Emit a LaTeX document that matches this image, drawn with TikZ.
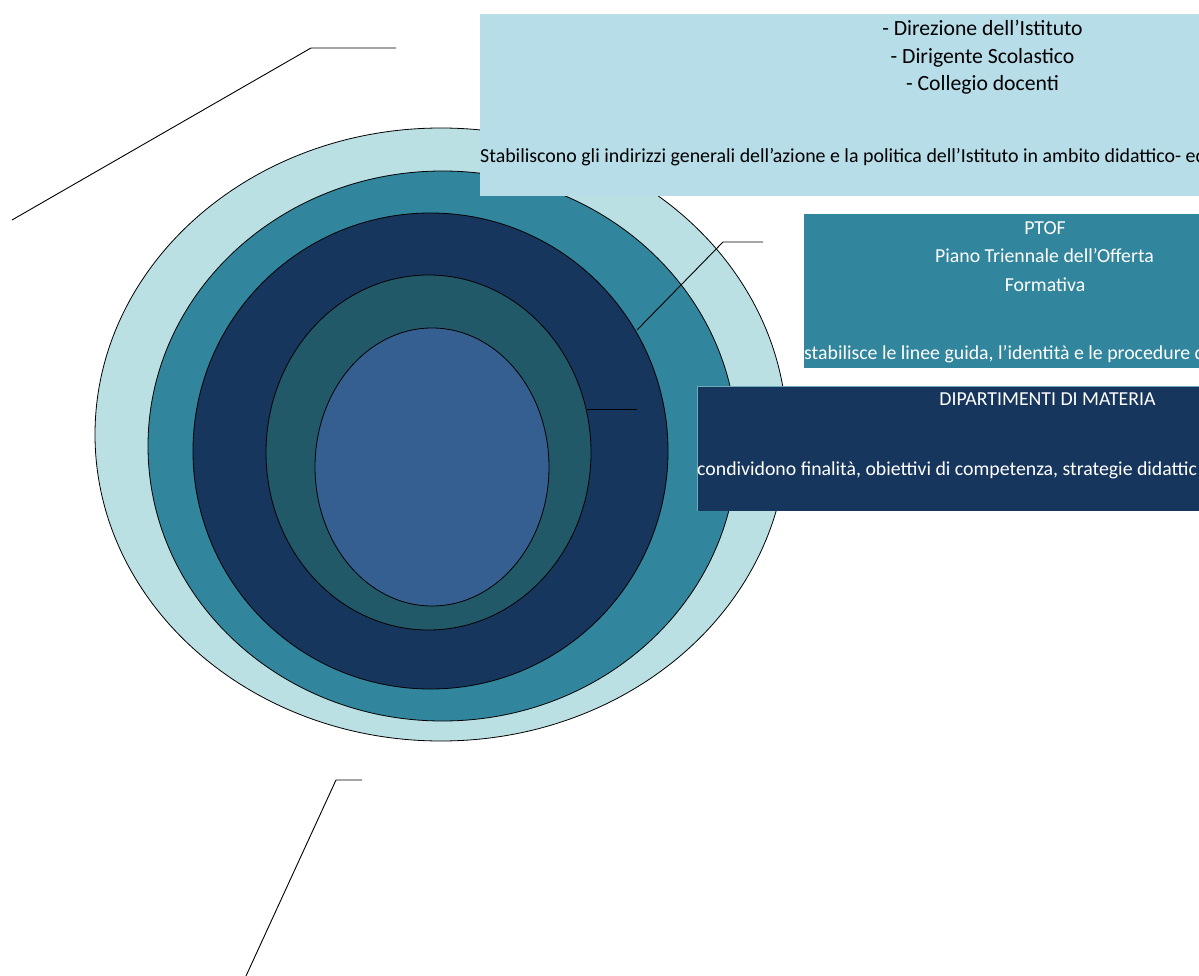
\documentclass[tikz,border=0pt]{standalone}
\usepackage{fontspec}
\setmainfont{Carlito}
\usetikzlibrary{shapes.geometric}
\definecolor{cLight}{HTML}{B7DDE8}
\definecolor{cRing}{HTML}{BBE0E3}
\definecolor{cTeal}{HTML}{31859C}
\definecolor{cNavy}{HTML}{17365D}
\definecolor{cDTeal}{HTML}{215968}
\definecolor{cInner}{HTML}{365F91}
\tikzset{
  ring/.style={draw=black, line width=0.8pt, ellipse, inner sep=0pt},
  box/.style={inner sep=0pt, outer sep=0pt},
  txt/.style={font=\fontsize{19.8}{23}\selectfont, inner sep=0pt, anchor=base},
  bigtxt/.style={font=\fontsize{21.7}{25}\selectfont, inner sep=0pt, anchor=base},
  leader/.style={draw=black, line width=0.9pt}
}
\begin{document}
\begin{tikzpicture}[x=1pt,y=-1pt]
\useasboundingbox (0,0) rectangle (1199,976);
\clip (0,0) rectangle (1199,976);
% rings
\node[ring, fill=cRing, minimum width=692pt, minimum height=613pt] (e1) at (441,434.5) {};
\node[ring, fill=cTeal, minimum width=589pt, minimum height=550pt] (e2) at (442.5,446) {};
\node[ring, fill=cNavy, minimum width=475pt, minimum height=476pt] (e3) at (430.5,451) {};
\node[ring, fill=cDTeal, minimum width=325pt, minimum height=355pt] (e4) at (428.5,452.5) {};
\node[ring, fill=cInner, minimum width=234pt, minimum height=278pt] (e5) at (432,467) {};
% boxes
\fill[cLight] (480,14) rectangle (1210,196);
\node[box] (b1) at (845,105) {};
\fill[cTeal] (804,214) rectangle (1210,368);
\node[box] (b2) at (1000,291) {};
\fill[cNavy] (697,386) rectangle (1210,511);
\draw[cTeal!70, line width=0.8pt] (697,511) -- (697,386) -- (1210,386);
\node[box] (b3) at (950,448) {};
% texts
\node[bigtxt] (t1) at (982.5,35.5) {- Direzione dell’Istituto};
\node[bigtxt] (t2) at (982.5,63.5) {- Dirigente Scolastico};
\node[bigtxt] (t3) at (982.5,91) {- Collegio docenti};
\node[txt, font=\fontsize{19.9}{23}\selectfont, anchor=base west] (t4) at (480,162.7) {Stabiliscono gli indirizzi generali dell'azione e la politica dell’Istituto in ambito didattico- ed};
\node[txt, text=white] (p1) at (1045,235) {PTOF};
\node[txt, text=white] (p2) at (1044.5,263) {Piano Triennale dell'Offerta};
\node[txt, text=white] (p3) at (1045,291) {Formativa};
\node[txt, text=white, anchor=base west] (p4) at (804,359) {stabilisce le linee guida, l'identità e le procedure d};
\node[txt, text=white] (d1) at (1047.5,405) {DIPARTIMENTI DI MATERIA};
\node[txt, text=white, anchor=base west] (d2) at (697,475) {condividono finalità, obiettivi di competenza, strategie didattic};
% leader lines
\coordinate (l1a) at (12,220); \coordinate (l1b) at (311,48); \coordinate (l1c) at (396,48);
\draw[leader] (l1a) -- (l1b) -- (l1c);
\coordinate (l2a) at (637,330); \coordinate (l2b) at (723,242); \coordinate (l2c) at (763,242);
\draw[leader] (l2a) -- (l2b) -- (l2c);
\coordinate (l3a) at (587,409); \coordinate (l3b) at (637,409);
\draw[leader] (l3a) -- (l3b);
\coordinate (l4a) at (246,976); \coordinate (l4b) at (336,780); \coordinate (l4c) at (362,780);
\draw[leader] (l4a) -- (l4b) -- (l4c);
\end{tikzpicture}
\end{document}
